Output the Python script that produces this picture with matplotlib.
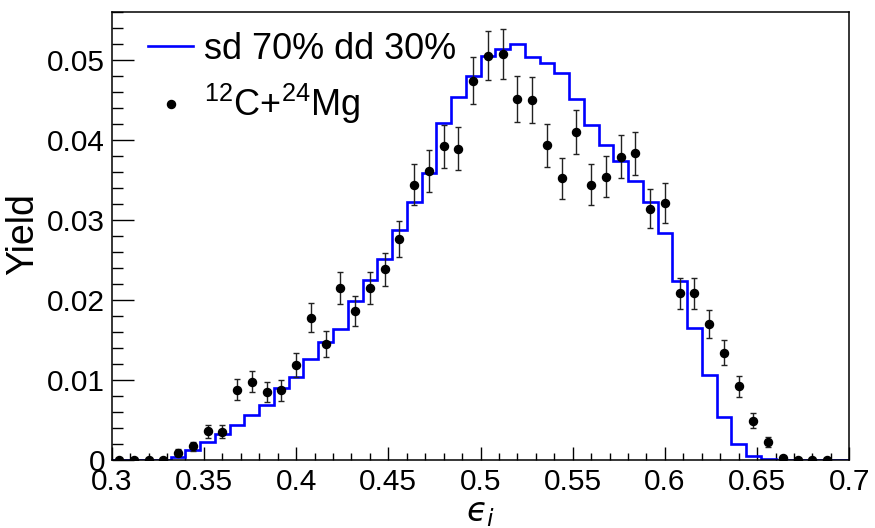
import matplotlib
matplotlib.use('Agg')
import matplotlib.pyplot as plt
import numpy as np
from matplotlib.lines import Line2D

plt.rcParams['font.family'] = ['Liberation Sans', 'DejaVu Sans']
plt.rcParams['mathtext.fontset'] = 'custom'
plt.rcParams['mathtext.rm'] = 'Liberation Sans'
plt.rcParams['mathtext.it'] = 'Liberation Sans:italic'

# binning: 50 bins between 0.3 and 0.7
x_lo, x_hi, n_bins = 0.3, 0.7, 50

# simulation histogram (sd 70% dd 30%)
sim_yield = [0, 0, 0, 0, 0.0004, 0.00125, 0.0023, 0.0033, 0.0044, 0.0056,
             0.0069, 0.0090, 0.0104, 0.0126, 0.0148, 0.0164, 0.0198, 0.0225, 0.0251, 0.0287,
             0.0322, 0.0358, 0.0421, 0.0453, 0.0480, 0.0505, 0.0513, 0.0520, 0.0504, 0.0496,
             0.0483, 0.0451, 0.0418, 0.0393, 0.0374, 0.0348, 0.0322, 0.0283, 0.0223, 0.0165,
             0.0106, 0.0054, 0.0020, 0.0005, 0.0001, 0, 0, 0, 0, 0]

# data 12C+24Mg (first 49 bins)
data_yield = [0, 0, 0, 0, 0.0009, 0.0017, 0.0036, 0.0035, 0.0088, 0.0098,
              0.0085, 0.0087, 0.0119, 0.0178, 0.0145, 0.0215, 0.0186, 0.0215, 0.0238, 0.0276,
              0.0344, 0.0361, 0.0392, 0.0389, 0.0474, 0.0505, 0.0507, 0.0451, 0.0450, 0.0393,
              0.0352, 0.0410, 0.0344, 0.0354, 0.0379, 0.0383, 0.0314, 0.0321, 0.0208, 0.0208,
              0.0170, 0.0134, 0.0092, 0.0049, 0.00225, 0.0003, 0, 0, 0]
data_err = [0, 0, 0, 0, 0.00042, 0.00056, 0.00082, 0.00081, 0.00128, 0.00136,
            0.00126, 0.00128, 0.0015, 0.00183, 0.00165, 0.0020, 0.00187, 0.0020, 0.00211, 0.00228,
            0.00254, 0.0026, 0.00271, 0.0027, 0.00298, 0.00308, 0.0031, 0.00291, 0.0029, 0.00272,
            0.00257, 0.00277, 0.00254, 0.00258, 0.00267, 0.00268, 0.00243, 0.00245, 0.00198, 0.00198,
            0.00179, 0.00159, 0.00131, 0.00096, 0.00065, 0.00024, 0, 0, 0]

edges = np.linspace(x_lo, x_hi, n_bins + 1)
centers = 0.5 * (edges[:-1] + edges[1:])

fig = plt.figure(figsize=(8.75, 5.28), dpi=100)
ax = fig.add_axes([0.1277, 0.1288, 0.8429, 0.8490])

ax.stairs(sim_yield, edges, color='#0000ff', lw=1.9, baseline=None, zorder=2)
ax.errorbar(centers[:len(data_yield)], data_yield, yerr=data_err, fmt='o', color='black',
            ms=5.8, elinewidth=1.0, capsize=2.3, capthick=1.0, ecolor='#222222', zorder=3)

ax.set_xlim(x_lo, x_hi)
ax.set_ylim(0, 0.056)
ax.set_xticks(np.arange(0.3, 0.7001, 0.05))
ax.set_xticklabels(['0.3', '0.35', '0.4', '0.45', '0.5', '0.55', '0.6', '0.65', '0.7'])
ax.set_xticks(np.arange(0.3, 0.7001, 0.01), minor=True)
ax.set_yticks(np.arange(0, 0.0501, 0.01))
ax.set_yticklabels(['0', '0.01', '0.02', '0.03', '0.04', '0.05'])
ax.set_yticks(np.arange(0, 0.0561, 0.002), minor=True)

ax.tick_params(axis='both', which='both', direction='in', colors='black', width=1.0)
ax.tick_params(axis='y', which='major', length=16, pad=4.8, labelsize=21.5)
ax.tick_params(axis='y', which='minor', length=8)
ax.tick_params(axis='x', which='major', length=9.5, pad=6, labelsize=21.5)
ax.tick_params(axis='x', which='minor', length=5)
for s in ax.spines.values():
    s.set_linewidth(1.1)

ax.set_ylabel('Yield', fontsize=27)
ax.yaxis.set_label_coords(-0.096, 0.504)
ax.set_xlabel('$\u03f5_i$', fontsize=24, math_fontfamily='dejavusans')
ax.xaxis.set_label_coords(0.5, -0.085)

handles = [Line2D([], [], color='#0000ff', lw=1.9),
           Line2D([], [], ls='none', marker='o', color='black', ms=5.8)]
labels = ['sd 70% dd 30%', r'$^{12}$C+$^{24}$Mg']
ax.legend(handles, labels, loc='upper left', bbox_to_anchor=(0.049, 0.955), frameon=False,
          fontsize=26, handlelength=1.26, handletextpad=0.3, labelspacing=0.42,
          borderpad=0, borderaxespad=0)

fig.savefig('out.png', dpi=100)
